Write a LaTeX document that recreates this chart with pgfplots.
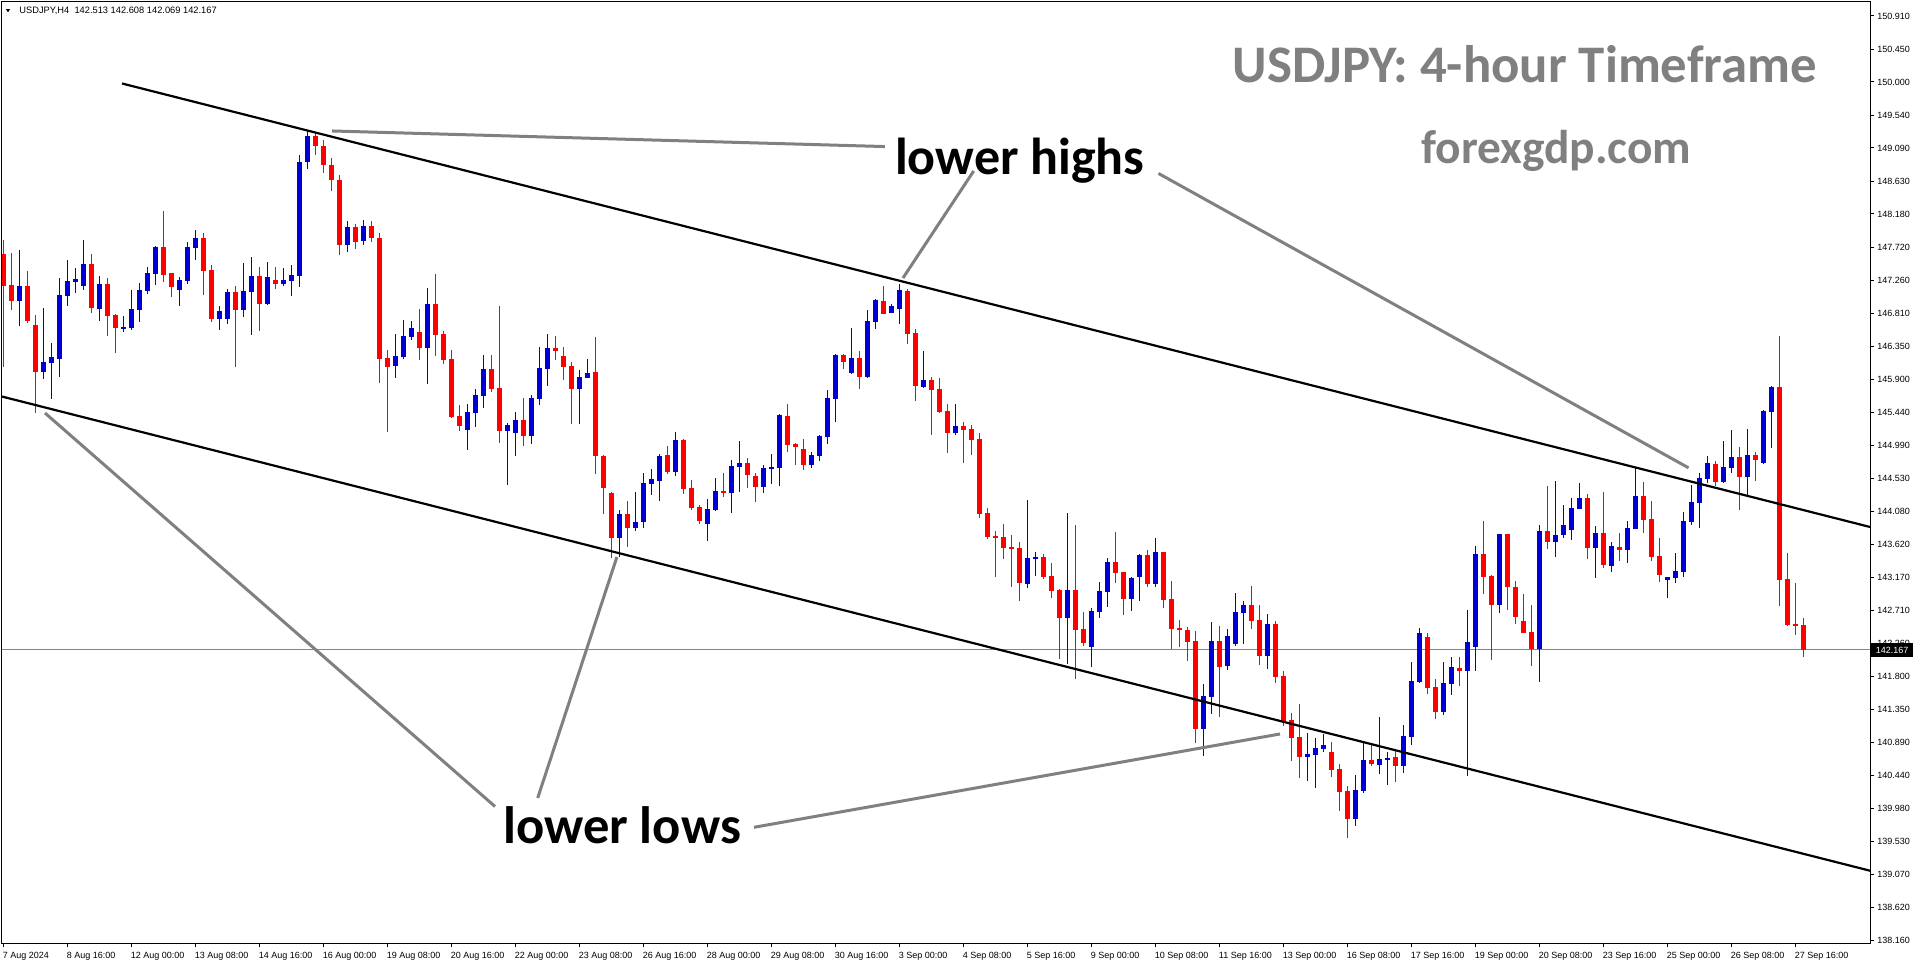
\documentclass[border=0pt]{standalone}
\usepackage{fontspec}
\setmainfont{Liberation Sans}
\newfontfamily\carlito{Carlito}
\usepackage{pgfplots}
\usepackage{pgfplotstable}
\pgfplotsset{compat=1.18}
\definecolor{upc}{RGB}{0,0,210}
\definecolor{dnc}{RGB}{255,0,0}
\definecolor{anng}{RGB}{128,128,128}
\definecolor{pline}{RGB}{119,136,153}
\newcommand{\smallf}{\fontsize{4.5pt}{5pt}\selectfont}

\pgfplotstableread{
i O H L C
2 146.983 147.682 146.634 147.185
5 146.004 146.882 145.898 146.137
6 146.128 146.399 145.622 146.206
7 146.183 147.296 145.935 147.061
8 147.052 147.544 146.914 147.254
9 147.245 147.438 147.094 147.282
10 147.190 147.820 147.130 147.489
12 146.873 147.323 146.707 147.213
15 146.606 146.772 146.556 146.620
16 146.606 147.130 146.579 146.868
17 146.859 147.227 146.694 147.130
18 147.121 147.448 147.080 147.365
19 147.356 147.742 147.199 147.728
22 147.135 147.310 146.914 147.268
23 147.259 147.792 147.218 147.723
24 147.714 147.958 147.549 147.848
27 146.735 146.910 146.583 146.841
28 146.735 147.144 146.666 147.103
30 146.859 147.503 146.762 147.117
31 147.107 147.585 146.514 147.323
33 146.938 147.520 146.929 147.315
35 147.218 147.440 147.191 147.269
36 147.255 147.480 147.053 147.338
37 147.329 149.000 147.177 148.900
38 148.900 149.340 148.800 149.250
43 147.750 148.080 147.660 148.000
45 147.800 148.100 147.750 148.020
49 146.087 146.524 145.922 146.221
50 146.207 146.717 146.179 146.497
51 146.487 146.704 146.441 146.607
53 146.336 147.159 145.835 146.938
58 145.205 145.559 144.924 145.448
59 145.439 145.766 145.246 145.683
60 145.674 146.235 145.508 146.041
63 145.191 145.297 144.446 145.269
64 145.163 145.448 144.846 145.338
66 145.121 145.682 145.011 145.641
67 145.631 146.344 145.549 146.054
68 146.045 146.523 145.811 146.330
72 145.769 146.027 145.287 145.930
73 145.921 146.178 145.921 145.985
77 143.714 144.096 143.443 144.041
79 143.852 144.344 143.811 143.930
80 143.935 144.606 143.852 144.468
81 144.459 144.661 144.307 144.523
82 144.500 144.868 144.224 144.841
84 144.624 145.172 144.569 145.061
88 143.907 144.247 143.673 144.110
89 144.100 144.537 144.087 144.358
91 144.335 144.785 144.059 144.703
92 144.693 145.047 144.349 144.744
95 144.418 144.716 144.335 144.675
96 144.666 144.868 144.459 144.689
97 144.680 145.420 144.431 145.406
101 144.721 144.896 144.680 144.854
102 144.845 145.130 144.776 145.116
103 145.107 145.751 145.011 145.641
104 145.631 146.247 145.314 146.234
106 145.985 146.606 145.972 146.192
108 145.935 146.854 145.921 146.703
109 146.693 147.006 146.597 146.992
111 146.818 146.937 146.818 146.910
112 146.873 147.213 146.666 147.130
115 145.797 146.289 145.783 145.889
119 145.162 145.558 145.135 145.254
128 143.080 144.238 143.024 143.438
129 143.425 143.517 143.190 143.448
133 142.611 144.050 141.976 142.992
136 142.211 142.744 141.935 142.707
137 142.694 143.103 142.611 142.979
138 142.969 143.434 142.763 143.379
141 142.873 143.172 142.707 143.158
142 143.167 143.489 142.845 143.475
144 143.080 143.710 143.038 143.517
150 141.080 141.701 140.707 141.535
151 141.521 142.556 141.287 142.294
153 141.949 142.459 141.894 142.363
154 142.252 142.956 142.225 142.694
155 142.680 142.845 142.252 142.790
158 142.087 142.666 141.907 142.528
163 140.694 141.025 140.363 140.731
164 140.722 140.956 140.267 140.814
165 140.805 141.011 140.763 140.855
169 139.839 140.441 139.742 140.234
170 140.221 140.896 140.198 140.648
172 140.584 141.246 140.460 140.662
173 140.653 140.759 140.308 140.676
175 140.570 141.131 140.473 140.979
176 140.970 142.000 140.860 141.738
177 141.724 142.469 141.710 142.400
180 141.315 142.000 141.273 141.710
181 141.701 142.069 141.549 141.931
183 141.880 142.717 140.432 142.276
184 142.211 143.600 141.880 143.490
187 142.791 143.765 142.680 143.765
192 142.184 143.890 141.728 143.807
194 143.660 144.496 143.453 143.751
195 143.751 144.165 143.710 143.889
196 143.820 144.262 143.683 144.124
197 144.110 144.469 144.110 144.262
199 143.572 143.876 143.158 143.779
201 143.328 143.655 143.246 143.600
203 143.549 143.945 143.370 143.848
204 143.839 144.676 143.839 144.289
208 143.135 143.172 142.887 143.172
209 143.163 143.503 143.094 143.260
210 143.246 144.069 143.177 143.945
211 143.935 144.441 143.894 144.207
212 144.197 144.607 143.853 144.538
213 144.528 144.841 144.473 144.745
215 144.487 145.048 144.473 144.689
216 144.680 145.200 144.611 144.827
218 144.556 145.214 144.294 144.855
220 144.745 145.476 144.731 145.462
221 145.453 145.807 144.956 145.793
}\bull

\pgfplotstableread{
i O H L C
0 147.627 147.820 146.073 147.190
1 147.199 147.636 146.854 146.983
3 147.185 147.392 146.680 146.707
4 146.648 146.785 145.429 146.004
11 147.489 147.627 146.818 146.887
13 147.213 147.296 146.500 146.776
14 146.785 146.794 146.266 146.611
20 147.723 148.220 147.241 147.342
21 147.365 147.365 147.038 147.176
25 147.848 147.917 147.061 147.397
26 147.406 147.475 146.694 146.730
29 147.103 147.186 146.073 146.859
32 147.323 147.448 146.569 146.942
34 147.269 147.450 147.150 147.218
39 149.250 149.300 149.000 149.120
40 149.120 149.200 148.750 148.850
41 148.850 148.950 148.500 148.650
42 148.650 148.720 147.620 147.750
44 148.000 148.040 147.700 147.800
46 148.020 148.080 147.800 147.850
47 147.850 147.920 145.853 146.179
48 146.193 146.304 145.177 146.074
52 146.552 146.869 146.166 146.336
54 146.938 147.352 146.221 146.510
55 146.524 146.566 146.110 146.166
56 146.179 146.304 145.366 145.379
57 145.393 145.545 145.191 145.260
61 146.041 146.235 145.729 145.770
62 145.779 146.910 145.025 145.191
65 145.337 145.641 144.983 145.121
69 146.330 146.496 146.169 146.293
70 146.220 146.344 145.893 146.073
71 146.082 146.137 145.287 145.769
74 145.999 146.482 144.597 144.845
75 144.845 144.850 144.045 144.404
76 144.330 144.344 143.438 143.714
78 144.041 144.220 143.590 143.852
83 144.854 144.978 144.597 144.624
85 145.061 145.075 144.321 144.390
86 144.399 144.510 144.100 144.123
87 144.137 144.165 143.907 143.944
90 144.358 144.606 144.280 144.335
93 144.744 144.813 144.404 144.583
94 144.565 144.606 144.211 144.418
98 145.392 145.558 144.900 144.997
99 145.006 145.020 144.721 144.969
100 144.937 145.075 144.652 144.721
105 146.234 146.247 146.045 146.142
107 146.192 146.289 145.769 145.935
110 146.978 147.185 146.800 146.804
113 147.116 147.144 146.390 146.528
114 146.537 146.592 145.604 145.811
116 145.889 145.930 145.135 145.755
117 145.765 145.916 145.438 145.452
118 145.461 145.558 144.887 145.162
120 145.254 145.310 144.749 145.204
121 145.213 145.268 144.859 145.066
122 145.075 145.158 143.990 144.045
123 144.054 144.123 143.700 143.728
124 143.742 143.811 143.176 143.714
125 143.728 143.907 143.424 143.576
126 143.581 143.755 143.038 143.562
127 143.576 143.659 142.845 143.093
130 143.448 143.489 143.149 143.176
131 143.186 143.365 142.887 142.983
132 142.992 143.006 142.045 142.611
134 142.992 143.889 141.769 142.445
135 142.455 142.689 142.225 142.266
139 143.379 143.792 143.094 143.232
140 143.241 143.241 142.652 142.873
143 143.475 143.544 143.038 143.080
145 143.517 143.517 142.749 142.859
146 142.868 143.117 142.183 142.459
147 142.473 142.583 142.211 142.445
148 142.445 142.487 142.018 142.280
149 142.294 142.432 140.887 141.080
152 142.294 142.501 141.245 141.935
156 142.790 143.052 142.459 142.569
157 142.583 142.790 141.963 142.087
159 142.528 142.569 141.714 141.797
160 141.807 141.876 141.120 141.170
161 141.200 141.296 140.639 140.956
162 140.970 141.421 140.405 140.694
166 140.759 140.896 140.418 140.515
167 140.524 140.593 139.949 140.211
168 140.221 140.290 139.577 139.839
171 140.648 140.855 140.570 140.598
174 140.690 140.786 140.349 140.570
178 142.345 142.400 141.563 141.646
179 141.655 141.765 141.218 141.315
182 141.917 142.069 141.673 141.880
185 143.490 143.949 142.942 143.177
186 143.186 143.200 142.032 142.791
188 143.765 143.765 142.722 143.039
189 143.034 143.122 142.529 142.625
190 142.565 142.938 142.400 142.405
191 142.414 142.786 141.949 142.184
193 143.807 144.427 143.563 143.660
198 144.262 144.317 143.420 143.572
200 143.779 144.345 143.301 143.342
202 143.586 143.779 143.397 143.549
205 144.289 144.483 143.784 143.963
206 143.972 144.220 143.397 143.453
207 143.462 143.710 143.108 143.204
214 144.731 144.772 144.432 144.487
217 144.827 144.965 144.101 144.556
219 144.855 144.896 144.501 144.791
222 145.793 146.496 142.777 143.135
223 143.145 143.508 142.501 142.515
224 142.528 143.094 142.377 142.501
225 142.513 142.608 142.069 142.167
}\bear

\pgfplotsset{candle/.style={only marks, mark=none, mark size=0pt, mark options={draw=none, fill=none}, forget plot}}

\begin{document}
\begin{tikzpicture}
\useasboundingbox (0,0) rectangle (958pt,482pt);
\fill[white] (0,0) rectangle (958pt,482pt);
\begin{axis}[
  at={(1pt,10.5pt)}, anchor=south west,
  scale only axis, width=934pt, height=470.5pt,
  xmin=-0.1625, xmax=233.3375, ymin=138.124, ymax=151.103,
  enlargelimits=false,
  axis line style={line width=0.5pt, black},
  tick align=outside, major tick length=2pt,
  tick style={line width=0.5pt, black},
  xtick pos=left, ytick pos=right, yticklabel pos=right,
  xtick={0,8,...,224},
  xticklabels={7 Aug 2024, 8 Aug 16:00, 12 Aug 00:00, 13 Aug 08:00, 14 Aug 16:00, 16 Aug 00:00, 19 Aug 08:00, 20 Aug 16:00, 22 Aug 00:00, 23 Aug 08:00, 26 Aug 16:00, 28 Aug 00:00, 29 Aug 08:00, 30 Aug 16:00, 3 Sep 00:00, 4 Sep 08:00, 5 Sep 16:00, 9 Sep 00:00, 10 Sep 08:00, 11 Sep 16:00, 13 Sep 00:00, 16 Sep 08:00, 17 Sep 16:00, 19 Sep 00:00, 20 Sep 08:00, 23 Sep 16:00, 25 Sep 00:00, 26 Sep 08:00, 27 Sep 16:00},
  ytick={138.16,138.62,139.07,139.53,139.98,140.44,140.89,141.35,141.80,142.26,142.71,143.17,143.62,144.08,144.53,144.99,145.44,145.90,146.35,146.81,147.26,147.72,148.18,148.63,149.09,149.54,150.00,150.45,150.91},
  yticklabels={138.160,138.620,139.070,139.530,139.980,140.440,140.890,141.350,141.800,142.260,142.710,143.170,143.620,144.080,144.530,144.990,145.440,145.900,146.350,146.810,147.260,147.720,148.180,148.630,149.090,149.540,150.000,150.450,150.910},
  xticklabel style={font=\smallf, anchor=north west, inner sep=0pt, xshift=-0.4pt, yshift=-2.5pt},
  yticklabel style={font=\smallf, anchor=west, inner sep=0pt, xshift=1.5pt},
]
% current price line
\addplot[pline, line width=0.5pt, forget plot] coordinates {(-0.1625,142.167) (233.3375,142.167)};
% wicks
\addplot[candle, error bars/.cd, y dir=both, y explicit, error mark=none, error bar style={draw=upc, line width=0.5pt}]
  table[x=i, y expr={(\thisrow{H}+\thisrow{L})/2}, y error expr={(\thisrow{H}-\thisrow{L})/2}] {\bull};
\addplot[candle, error bars/.cd, y dir=both, y explicit, error mark=none, error bar style={draw=dnc, line width=0.5pt}]
  table[x=i, y expr={(\thisrow{H}+\thisrow{L})/2}, y error expr={(\thisrow{H}-\thisrow{L})/2}] {\bear};
% bodies
\addplot[candle, error bars/.cd, y dir=both, y explicit, error mark=none, error bar style={draw=upc, line width=2.5pt}]
  table[x=i, y expr={(\thisrow{O}+\thisrow{C})/2}, y error expr={max(abs(\thisrow{C}-\thisrow{O})/2,0.0069)}] {\bull};
\addplot[candle, error bars/.cd, y dir=both, y explicit, error mark=none, error bar style={draw=dnc, line width=2.5pt}]
  table[x=i, y expr={(\thisrow{O}+\thisrow{C})/2}, y error expr={max(abs(\thisrow{C}-\thisrow{O})/2,0.0069)}] {\bear};
% channel lines
\addplot[black, line width=1.1pt] coordinates {(14.84,149.979) (233.34,143.862)};
\addplot[black, line width=1.1pt] coordinates {(-0.1625,145.661) (233.34,139.121)};
% annotation pointer lines
\addplot[anng, line width=1.5pt] coordinates {(41.09,149.324) (110.2,149.109)};
\addplot[anng, line width=1.5pt] coordinates {(112.46,147.296) (121.3,148.772)};
\addplot[anng, line width=1.5pt] coordinates {(144.4,148.738) (210.65,144.678)};
\addplot[anng, line width=1.5pt] coordinates {(5.21,145.434) (61.46,140.007)};
\addplot[anng, line width=1.5pt] coordinates {(76.7,143.448) (66.8,140.124)};
\addplot[anng, line width=1.5pt] coordinates {(93.84,139.72) (159.59,141.007)};
\end{axis}
% price box on the right scale
\node[anchor=west, fill=black, text=white, inner xsep=2.2pt, inner ysep=0pt, minimum height=7pt, font=\smallf] at (935.5pt,{(964-650.3)*0.5pt}) {142.167};
% header
\fill[black] (3pt,477.4pt) -- (5pt,477.4pt) -- (4pt,475.8pt) -- cycle;
\node[anchor=base west, inner sep=0pt, font={\fontsize{4.65pt}{5pt}\selectfont}] at (9.5pt,475pt) {USDJPY,H4\ \ 142.513 142.608 142.069 142.167};
% titles
\node[anchor=base, inner sep=0pt, text=anng, font={\carlito\bfseries\fontsize{26.4pt}{30pt}\selectfont}] at (762.4pt,440.65pt) {USDJPY: 4-hour Timeframe};
\node[anchor=base, inner sep=0pt, text=anng, font={\carlito\bfseries\fontsize{23.7pt}{28pt}\selectfont}] at (778.2pt,400.35pt) {forexgdp.com};
\node[anchor=base, inner sep=0pt, text=black, font={\carlito\bfseries\fontsize{26pt}{31pt}\selectfont}] at (509.9pt,394.5pt) {lower highs};
\node[anchor=base, inner sep=0pt, text=black, font={\carlito\bfseries\fontsize{26.3pt}{31pt}\selectfont}] at (311pt,60.5pt) {lower lows};
\end{tikzpicture}
\end{document}
